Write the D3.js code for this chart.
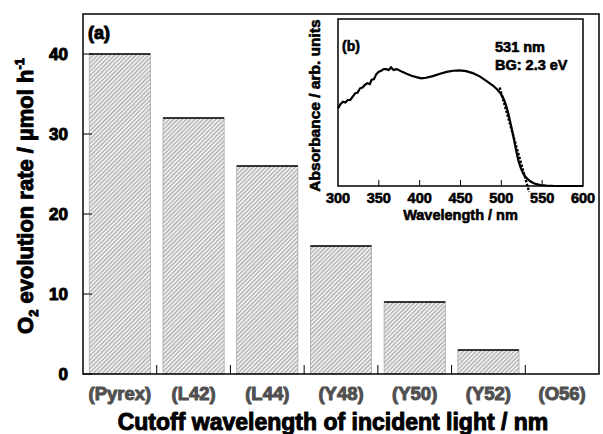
<!DOCTYPE html>
<html>
<head>
<meta charset="utf-8">
<script src="https://cdn.jsdelivr.net/npm/d3@7"></script>
<style>
  body { margin: 0; background: #fff; }
  svg { font-family: "Liberation Sans", Arial, sans-serif; font-weight: bold; }
  .heavy { stroke-width: 1px; paint-order: stroke; stroke-linejoin: round; }
  .medium { stroke-width: 0.6px; paint-order: stroke; stroke-linejoin: round; }
</style>
</head>
<body>
<svg id="chart" width="603" height="434"></svg>
<script>
// main chart data
var categories = ["(Pyrex)", "(L42)", "(L44)", "(Y48)", "(Y50)", "(Y52)", "(O56)"];
var rates = [40, 32, 26, 16, 9, 3, 0];
var yTicks = [0, 10, 20, 30, 40];

// inset: absorption spectrum
var wavelengths = [300, 303, 306, 309, 312, 315, 318, 321, 324, 327, 330, 333, 336, 339, 341, 344, 347, 350, 353, 356, 359, 362, 365, 368, 372, 378, 384, 390, 396, 402, 408, 416, 425, 433, 441, 449, 457, 465, 474, 482, 490, 495, 499, 503, 506, 509, 512, 515, 518, 521, 524, 527, 531, 535, 539, 543, 548, 555, 563, 572, 585, 600];
var absorbance = [0.465, 0.49, 0.505, 0.5, 0.515, 0.515, 0.535, 0.555, 0.56, 0.585, 0.59, 0.605, 0.615, 0.61, 0.635, 0.64, 0.67, 0.685, 0.69, 0.7, 0.7, 0.695, 0.71, 0.695, 0.7, 0.685, 0.672, 0.66, 0.652, 0.645, 0.648, 0.658, 0.672, 0.683, 0.69, 0.692, 0.688, 0.676, 0.655, 0.628, 0.6, 0.578, 0.555, 0.52, 0.48, 0.425, 0.36, 0.29, 0.215, 0.15, 0.105, 0.072, 0.047, 0.03, 0.018, 0.011, 0.006, 0.003, 0.001, 0, 0, 0];
var tangentNm = [498, 534];
var tangentAbs = [0.59, -0.035];
var insetTicks = [300, 350, 400, 450, 500, 550, 600];

var svg = d3.select("#chart");
var margin = {top: 14, right: 4, bottom: 60, left: 83};
var width = 603 - margin.left - margin.right,
    height = 434 - margin.top - margin.bottom;

var defs = svg.append("defs");
var pat = defs.append("pattern")
    .attr("id", "hatch")
    .attr("patternUnits", "userSpaceOnUse")
    .attr("width", 3)
    .attr("height", 3)
    .attr("patternTransform", "rotate(45)");
pat.append("rect").attr("width", 3).attr("height", 3).attr("fill", "#ececec");
pat.append("rect").attr("width", 1).attr("height", 3).attr("fill", "#a6a6a6");

var g = svg.append("g")
    .attr("transform", "translate(" + margin.left + "," + margin.top + ")");

var x = d3.scaleBand()
    .domain(categories)
    .range([0, width])
    .paddingInner(0.17)
    .paddingOuter(0.085);

var y = d3.scaleLinear()
    .domain([0, 45])
    .range([height, 0]);

// bars
var bars = g.selectAll(".bar")
    .data(rates)
  .enter().append("g")
    .attr("class", "bar");

bars.append("rect")
    .attr("x", function(d, i) { return x(categories[i]); })
    .attr("y", function(d) { return y(d); })
    .attr("width", x.bandwidth())
    .attr("height", function(d) { return y(0) - y(d); })
    .attr("fill", "url(#hatch)")
    .attr("stroke", "#a8a8a8")
    .attr("stroke-width", 0.8);

bars.filter(function(d) { return d > 0; })
  .append("line")
    .attr("x1", function(d) { return x(categories[rates.indexOf(d)]); })
    .attr("x2", function(d) { return x(categories[rates.indexOf(d)]) + x.bandwidth(); })
    .attr("y1", function(d) { return y(d); })
    .attr("y2", function(d) { return y(d); })
    .attr("stroke", "#000")
    .attr("stroke-width", 1.3);

// y ticks (inward) and labels
g.selectAll(".ytick")
    .data(yTicks)
  .enter().append("line")
    .attr("x1", 0).attr("x2", 9)
    .attr("y1", function(d) { return y(d); })
    .attr("y2", function(d) { return y(d); })
    .attr("stroke", "#000")
    .attr("stroke-width", 1);

g.selectAll(".ylabel")
    .data(yTicks)
  .enter().append("text")
    .attr("class", "heavy")
    .attr("x", -15)
    .attr("y", function(d) { return y(d); })
    .attr("dy", "0.36em")
    .attr("text-anchor", "end")
    .attr("font-size", 17)
    .attr("fill", "#000")
    .attr("stroke", "#000")
    .text(function(d) { return d; });

// x ticks between categories
var step = x.step();
g.selectAll(".xtick")
    .data(categories.slice(1))
  .enter().append("line")
    .attr("x1", function(d) { return x(d) - x.paddingInner() * step / 2; })
    .attr("x2", function(d) { return x(d) - x.paddingInner() * step / 2; })
    .attr("y1", height).attr("y2", height - 9)
    .attr("stroke", "#000")
    .attr("stroke-width", 1);

g.selectAll(".xlabel")
    .data(categories)
  .enter().append("text")
    .attr("class", "heavy")
    .attr("x", function(d) { return x(d) + x.bandwidth() / 2; })
    .attr("y", height + 26)
    .attr("text-anchor", "middle")
    .attr("font-size", 18.5)
    .attr("fill", "#505050")
    .attr("stroke", "#505050")
    .text(function(d) { return d; });

// frame
g.append("rect")
    .attr("width", width)
    .attr("height", height)
    .attr("fill", "none")
    .attr("stroke", "#000")
    .attr("stroke-width", 1.5);

g.append("text")
    .attr("class", "heavy")
    .attr("x", 5)
    .attr("y", 25)
    .attr("font-size", 18)
    .attr("fill", "#000")
    .attr("stroke", "#000")
    .text("(a)");

// axis titles
svg.append("text")
    .attr("class", "heavy")
    .attr("x", margin.left + width / 2 - 8)
    .attr("y", 430)
    .attr("text-anchor", "middle")
    .attr("font-size", 23)
    .attr("fill", "#000")
    .attr("stroke", "#000")
    .text("Cutoff wavelength of incident light / nm");

var yt = svg.append("text")
    .attr("class", "heavy")
    .attr("transform", "translate(33," + (margin.top + height / 2 + 2) + ") rotate(-90)")
    .attr("text-anchor", "middle")
    .attr("font-size", 22)
    .attr("fill", "#000")
    .attr("stroke", "#000");
yt.append("tspan").text("O");
yt.append("tspan").attr("font-size", 13).attr("dy", 5).text("2");
yt.append("tspan").attr("dy", -5).text(" evolution rate / µmol h");
yt.append("tspan").attr("font-size", 13).attr("dy", -9).text("-1");

// inset
var inset = {left: 338, top: 19, width: 245, height: 167};
var gi = svg.append("g")
    .attr("transform", "translate(" + inset.left + "," + inset.top + ")");

var xi = d3.scaleLinear().domain([300, 600]).range([0, inset.width]);
var yi = d3.scaleLinear().domain([0, 1]).range([inset.height, 0]);

gi.append("rect")
    .attr("width", inset.width)
    .attr("height", inset.height)
    .attr("fill", "#fff");

var line = d3.line()
    .x(function(d) { return xi(d[0]); })
    .y(function(d) { return yi(d[1]); })
    .curve(d3.curveLinear);

gi.append("path")
    .datum(d3.zip(wavelengths, absorbance))
    .attr("d", line)
    .attr("fill", "none")
    .attr("stroke", "#000")
    .attr("stroke-width", 2.2);

gi.append("path")
    .datum(d3.zip(tangentNm, tangentAbs))
    .attr("d", line)
    .attr("fill", "none")
    .attr("stroke", "#000")
    .attr("stroke-width", 2.4)
    .attr("stroke-dasharray", "2.5,1.5");

gi.selectAll(".itick")
    .data(insetTicks.slice(1, -1))
  .enter().append("line")
    .attr("x1", function(d) { return xi(d); })
    .attr("x2", function(d) { return xi(d); })
    .attr("y1", inset.height).attr("y2", inset.height - 6)
    .attr("stroke", "#000")
    .attr("stroke-width", 1);

gi.append("rect")
    .attr("width", inset.width)
    .attr("height", inset.height)
    .attr("fill", "none")
    .attr("stroke", "#000")
    .attr("stroke-width", 1.5);

gi.selectAll(".ilabel")
    .data(insetTicks)
  .enter().append("text")
    .attr("class", "medium")
    .attr("x", function(d) { return xi(d); })
    .attr("y", inset.height + 17)
    .attr("text-anchor", "middle")
    .attr("font-size", 14.5)
    .attr("fill", "#000")
    .attr("stroke", "#000")
    .text(function(d) { return d; });

gi.append("text")
    .attr("class", "medium")
    .attr("x", inset.width / 2)
    .attr("y", inset.height + 34)
    .attr("text-anchor", "middle")
    .attr("font-size", 14.5)
    .attr("fill", "#000")
    .attr("stroke", "#000")
    .text("Wavelength / nm");

gi.append("text")
    .attr("class", "medium")
    .attr("transform", "translate(-18," + (inset.height / 2 + 3) + ") rotate(-90)")
    .attr("text-anchor", "middle")
    .attr("font-size", 15.5)
    .attr("fill", "#000")
    .attr("stroke", "#000")
    .text("Absorbance / arb. units");

gi.append("text")
    .attr("class", "medium")
    .attr("x", 4)
    .attr("y", 32)
    .attr("font-size", 14)
    .attr("fill", "#000")
    .attr("stroke", "#000")
    .text("(b)");

gi.append("text")
    .attr("class", "medium")
    .attr("x", 157)
    .attr("y", 33)
    .attr("font-size", 14.5)
    .attr("fill", "#000")
    .attr("stroke", "#000")
    .text("531 nm");

gi.append("text")
    .attr("class", "medium")
    .attr("x", 157)
    .attr("y", 51)
    .attr("font-size", 14.5)
    .attr("fill", "#000")
    .attr("stroke", "#000")
    .text("BG: 2.3 eV");
</script>
</body>
</html>
